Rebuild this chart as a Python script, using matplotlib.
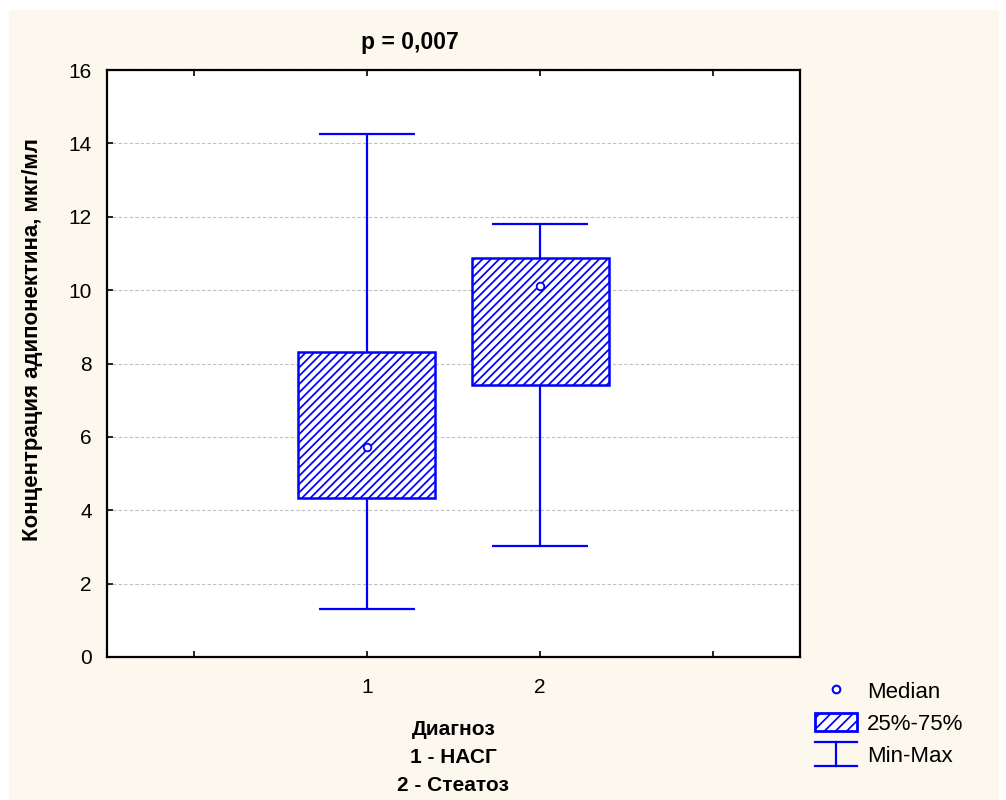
import matplotlib
matplotlib.use('Agg')
import matplotlib.pyplot as plt
from matplotlib.patches import Patch, Rectangle
from matplotlib.lines import Line2D
from matplotlib.legend_handler import HandlerBase

plt.rcParams['font.family'] = ['Liberation Sans', 'DejaVu Sans']
plt.rcParams['hatch.linewidth'] = 1.25
plt.rcParams['hatch.color'] = '#0000ff'

# adiponectin by diagnosis group (min, q1, median, q3, max)
groups = ['1', '2']
positions = [1, 2]
mins = [1.31, 3.02]
q1 = [4.33, 7.41]
medians = [5.72, 10.11]
q3 = [8.31, 10.87]
maxs = [14.25, 11.80]

BLUE = '#0000ff'


class HandlerMinMax(HandlerBase):
    """Legend key shaped like a whisker with caps."""

    def create_artists(self, legend, orig_handle, xdescent, ydescent,
                       width, height, fontsize, trans):
        x0, x1 = -xdescent, -xdescent + width
        xm = (x0 + x1) / 2
        y0, y1 = -ydescent - 0.15 * height, -ydescent + 1.15 * height
        kw = dict(color=BLUE, lw=1.6, transform=trans)
        return [Line2D([x0, x1], [y1, y1], **kw),
                Line2D([x0, x1], [y0, y0], **kw),
                Line2D([xm, xm], [y0, y1], **kw)]


fig = plt.figure(figsize=(10.06, 8.0), dpi=100, facecolor='white')
fig.patches.append(Rectangle((9 / 1006, 0), 990 / 1006, 790 / 800,
                             transform=fig.transFigure, facecolor='#fdf8ed',
                             edgecolor='none', zorder=-10))

ax = fig.add_axes([107 / 1006, 143 / 800, 693 / 1006, 587 / 800])
ax.set_facecolor('white')

# boxes: interquartile range
ax.bar(positions, [b - a for a, b in zip(q1, q3)], bottom=q1, width=0.79,
       facecolor='white', edgecolor=BLUE, linewidth=1.8, hatch='////',
       zorder=3)
# whiskers with caps
ax.vlines(positions, q3, maxs, color=BLUE, linewidth=1.6, zorder=2)
ax.vlines(positions, mins, q1, color=BLUE, linewidth=1.6, zorder=2)
ax.hlines(maxs, [p - 0.275 for p in positions], [p + 0.275 for p in positions],
          color=BLUE, linewidth=1.6, zorder=2)
ax.hlines(mins, [p - 0.275 for p in positions], [p + 0.275 for p in positions],
          color=BLUE, linewidth=1.6, zorder=2)
# medians
ax.plot(positions, medians, 'o', markersize=5.5, markerfacecolor='white',
        markeredgecolor=BLUE, markeredgewidth=1.3, linestyle='none', zorder=4)

ax.set_xlim(-0.5, 3.5)
ax.set_ylim(0, 16)
ax.set_xticks([0, 1, 2, 3])
ax.set_xticklabels(['', '1', '2', ''])
ax.set_yticks(range(0, 17, 2))
ax.tick_params(direction='in', length=4, width=1.2, labelsize=15,
               top=True, right=False, colors='black')
ax.tick_params(axis='y', pad=11)
ax.tick_params(axis='x', pad=15)
ax.yaxis.grid(True, linestyle=(0, (3, 2)), color='#c0c0c0', linewidth=0.8)
ax.set_axisbelow(True)
for side in ax.spines.values():
    side.set_linewidth(1.6)
    side.set_color('black')

ax.set_ylabel('Концентрация адипонектина, мкг/мл', fontsize=16,
              fontweight='bold')
ax.yaxis.set_label_coords(-0.093, 0.54)
ax.set_xlabel('Диагноз\n1 - НАСГ\n2 - Стеатоз', fontsize=15,
              fontweight='bold', linespacing=1.6)
ax.xaxis.set_label_coords(0.5, -0.107)

fig.text(410 / 1006, 1 - 42 / 800, 'p = 0,007', fontsize=16.5,
         fontweight='bold', ha='center', va='center')

handles = [
    Line2D([], [], marker='o', markersize=5.5, markerfacecolor='white',
           markeredgecolor=BLUE, markeredgewidth=1.5, linestyle='none'),
    Patch(facecolor='white', edgecolor=BLUE, linewidth=2, hatch='///'),
    Line2D([], [], color=BLUE),
]
fig.legend(handles, ['Median', '25%-75%', 'Min-Max'],
           handler_map={handles[2]: HandlerMinMax()},
           loc='upper left', bbox_to_anchor=(815 / 1006, 1 - 681 / 800),
           frameon=False, fontsize=16, handlelength=1.9, handleheight=0.9,
           handletextpad=0.45, labelspacing=0.45, borderpad=0,
           borderaxespad=0)

fig.savefig('out.png', dpi=100)
